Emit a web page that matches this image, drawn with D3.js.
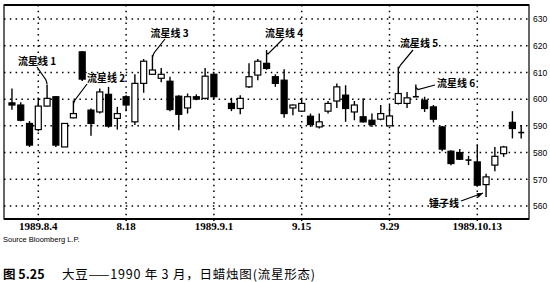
<!DOCTYPE html>
<html><head><meta charset="utf-8">
<script src="https://cdn.jsdelivr.net/npm/d3@7"></script>
<style>
html,body{margin:0;padding:0;background:#fff;}
svg{display:block;}
</style></head>
<body>
<svg id="c" width="550" height="282"></svg>
<script>
// ---- data ----
const dates = ["1989-08-01","1989-08-02","1989-08-03","1989-08-04","1989-08-07","1989-08-08","1989-08-09","1989-08-10","1989-08-11",
"1989-08-14","1989-08-15","1989-08-16","1989-08-17","1989-08-18","1989-08-21","1989-08-22","1989-08-23","1989-08-24","1989-08-25",
"1989-08-28","1989-08-29","1989-08-30","1989-08-31","1989-09-01","1989-09-05","1989-09-06","1989-09-07","1989-09-08",
"1989-09-11","1989-09-12","1989-09-13","1989-09-14","1989-09-15","1989-09-18","1989-09-19","1989-09-20","1989-09-21","1989-09-22",
"1989-09-25","1989-09-26","1989-09-27","1989-09-28","1989-09-29","1989-10-02","1989-10-03","1989-10-04","1989-10-05","1989-10-06",
"1989-10-09","1989-10-10","1989-10-11","1989-10-12","1989-10-13","1989-10-16","1989-10-17","1989-10-18","1989-10-19","1989-10-20"];
const open  = [598.6,597.8,590.9,588.6,597.4,600.9,582.1,593.0,617.7,595.9,595.2,601.8,592.8,600.9,591.5,605.9,609.3,607.8,606.7,601.1,596.7,600.9,600.3,609.3,598.4,596.5,604.6,609.0,613.4,608.4,607.1,596.7,595.5,593.6,589.6,595.5,599.3,601.5,595.2,593.4,592.1,592.5,590.0,598.4,598.4,600.9,599.6,597.1,589.6,580.5,580.0,577.2,576.5,568.0,575.3,579.6,591.3,587.5];
const high  = [604.0,598.8,591.8,600.5,605.5,601.2,590.9,599.5,618.0,596.5,604.0,604.6,597.1,601.5,609.3,615.0,616.5,611.7,608.4,601.5,602.1,601.8,611.7,610.0,600.5,601.5,613.4,615.0,618.4,609.3,611.2,598.0,600.0,594.6,594.6,599.3,605.9,605.2,599.3,600.3,594.6,597.8,597.8,612.1,602.7,605.5,600.9,597.8,589.9,580.9,581.3,578.8,582.8,572.1,582.1,582.5,595.5,590.3];
const low   = [596.0,591.7,582.1,588.0,597.2,582.1,582.1,592.8,606.8,586.3,594.6,589.3,588.6,595.5,590.3,602.4,609.3,606.3,595.5,588.4,594.6,599.6,599.9,600.3,595.5,594.3,604.2,607.1,611.0,604.6,593.0,594.0,595.2,589.6,589.0,594.6,596.7,591.5,592.1,591.3,589.6,592.1,590.0,598.0,596.7,600.9,595.2,591.3,580.5,575.3,577.2,575.3,567.2,563.4,573.0,578.4,585.3,585.3];
const close = [597.8,592.1,582.8,597.4,600.3,582.8,590.9,594.6,607.5,590.9,602.7,589.9,594.6,597.8,605.9,614.2,610.9,609.3,596.1,594.3,600.9,600.0,608.6,600.9,596.5,600.3,608.4,614.2,611.5,605.9,594.6,597.8,598.4,590.5,591.5,598.4,604.6,596.5,597.8,591.5,590.5,594.6,593.7,602.1,600.5,600.9,596.5,592.5,581.3,575.9,577.5,577.2,567.8,570.9,578.6,582.1,589.0,587.5];
const yTicks = [560,570,580,590,600,610,620,630];
const xTickDates = ["1989-08-04","1989-08-18","1989-09-01","1989-09-15","1989-09-29","1989-10-13"];
const xTickLabels = ["1989.8.4","8.18","1989.9.1","9.15","9.29","1989.10.13"];
const noteDates = ["1989-08-07","1989-08-10","1989-08-23","1989-09-11","1989-10-02","1989-10-04","1989-10-16"];
const noteLabels = ["流星线 1","流星线 2","流星线 3","流星线 4","流星线 5","流星线 6","锤子线"];
const sourceText = "Source  Bloomberg L.P.";
const captionNo = "图 5.25";
const captionText = "大豆——1990 年 3 月，日蜡烛图(流星形态)";

// ---- layout ----
const svg = d3.select("#c");
const frame = {l:4, r:529, t:5, b:219};
const parse = d3.timeParse("%Y-%m-%d");
const base = parse("1989-08-04");
// weekday index relative to base (weekends skipped)
function wIdx(s){
  const t = parse(s);
  const sign = t >= base ? 1 : -1;
  const a = sign > 0 ? base : t, b = sign > 0 ? t : base;
  const days = d3.timeDay.range(a, b).filter(dd => dd.getDay() !== 0 && dd.getDay() !== 6).length;
  return sign * days;
}
const x = d3.scaleLinear().domain([0, 50]).range([38.3, 477.3]);
const y = d3.scaleLinear().domain([560, 630]).range([206, 19]);
const X = d => x(wIdx(d));

const data = dates.map((d,i)=>({d, o:open[i], h:high[i], l:low[i], c:close[i]}));

// gridlines
const grid = svg.append("g").attr("stroke","#000").attr("stroke-width",1.5).attr("stroke-dasharray","1.5,4.3");
grid.selectAll("line.h").data(yTicks).join("line").attr("class","h")
  .attr("x1",frame.l).attr("x2",frame.r).attr("y1",d=>y(d)).attr("y2",d=>y(d));
grid.selectAll("line.v").data(xTickDates).join("line").attr("class","v")
  .attr("x1",d=>X(d)).attr("x2",d=>X(d)).attr("y1",frame.t).attr("y2",frame.b+3);

// frame
svg.append("rect").attr("x",frame.l).attr("y",frame.t).attr("width",frame.r-frame.l).attr("height",frame.b-frame.t)
  .attr("fill","none").attr("stroke","#000").attr("stroke-width",1.2);
svg.append("line").attr("x1",frame.l).attr("x2",frame.r).attr("y1",frame.b).attr("y2",frame.b).attr("stroke","#000").attr("stroke-width",2);
svg.append("line").attr("x1",frame.l).attr("x2",frame.r).attr("y1",frame.t).attr("y2",frame.t).attr("stroke","#000").attr("stroke-width",1.8);

// right axis
const ya = d3.axisRight(y).tickValues(yTicks).tickSize(0).tickPadding(4);
svg.append("g").attr("transform",`translate(${frame.r},0)`).call(ya)
  .call(g=>g.select(".domain").remove())
  .call(g=>g.selectAll("text").attr("font-family","Liberation Sans, Arial, sans-serif").attr("font-size",8.5).attr("fill","#000"));

// bottom axis labels
const xa = svg.append("g");
xa.selectAll("text").data(xTickDates).join("text")
  .attr("x",(d)=>X(d)).attr("y",230).attr("text-anchor","middle")
  .attr("font-family","Liberation Serif, Times New Roman, serif").attr("font-weight","bold").attr("font-size",11)
  .text((d,i)=>xTickLabels[i]);

// candles
const bw = 6;
const cg = svg.append("g");
const cs = cg.selectAll("g").data(data).join("g");
cs.append("line").attr("x1",d=>X(d.d)).attr("x2",d=>X(d.d)).attr("y1",d=>y(d.h)).attr("y2",d=>y(d.l))
  .attr("stroke","#000").attr("stroke-width",1.4);
cs.filter(d=>d.o!==d.c).append("rect")
  .attr("x",d=>X(d.d)-bw/2).attr("width",bw)
  .attr("y",d=>y(Math.max(d.o,d.c))).attr("height",d=>Math.max(1.5,y(Math.min(d.o,d.c))-y(Math.max(d.o,d.c))))
  .attr("fill",d=>d.c>d.o?"#fff":"#000").attr("stroke","#000").attr("stroke-width",1.2);
cs.filter(d=>d.o===d.c).append("line")
  .attr("x1",d=>X(d.d)-bw/2).attr("x2",d=>X(d.d)+bw/2).attr("y1",d=>y(d.o)).attr("y2",d=>y(d.o))
  .attr("stroke","#000").attr("stroke-width",1.6);

// annotations
const notePos = [
  {tx:18, ty:65, path:[[37,67],[46,80]]},
  {tx:87, ty:82, path:[[87,84],[75,100]]},
  {tx:150.5, ty:37, path:[[165,39],[154,53]]},
  {tx:265, ty:37, path:[[283,39],[268,54]]},
  {tx:400, ty:47, path:[[413,50],[400.5,65]]},
  {tx:437, ty:87, path:[[435,85],[418,89.5]]},
  {tx:429, ty:207, path:[[461,201],[483,193]]}
];
const ng = svg.append("g");
noteLabels.forEach((t,i)=>{
  const p = notePos[i];
  const cx = X(noteDates[i]);
  const pts = p.path.slice();
  if (i < 6) { const dd = data.find(d=>d.d===noteDates[i]); pts.push([cx, Math.min(p.path[1][1]+4, y(dd.h)+3)]); }
  ng.append("path").attr("d", d3.line()(pts)).attr("fill","none").attr("stroke","#000").attr("stroke-width",1.2);
  ng.append("text").attr("x",p.tx).attr("y",p.ty).attr("font-family","Noto Sans CJK SC, sans-serif")
    .attr("font-weight","bold").attr("font-size",10).attr("fill","#000").text(t);
});
// arrowhead for hammer
ng.append("path").attr("d","M483,193 L476.5,193.3 L478.5,197.8 Z").attr("fill","#000");

// source & caption
svg.append("text").attr("x",3).attr("y",242).attr("font-family","Liberation Sans, Arial, sans-serif")
  .attr("font-size",7.5).attr("fill","#000").text(sourceText);
svg.append("text").attr("x",3).attr("y",279).attr("font-family","Noto Sans CJK SC, sans-serif")
  .attr("font-weight","bold").attr("font-size",12.5).attr("fill","#000").text(captionNo);
svg.append("text").attr("x",62).attr("y",279).attr("font-family","Noto Sans CJK SC, sans-serif")
  .attr("font-size",12.5).attr("fill","#000").attr("textLength",253).attr("lengthAdjust","spacing").text(captionText);
</script>
</body></html>
